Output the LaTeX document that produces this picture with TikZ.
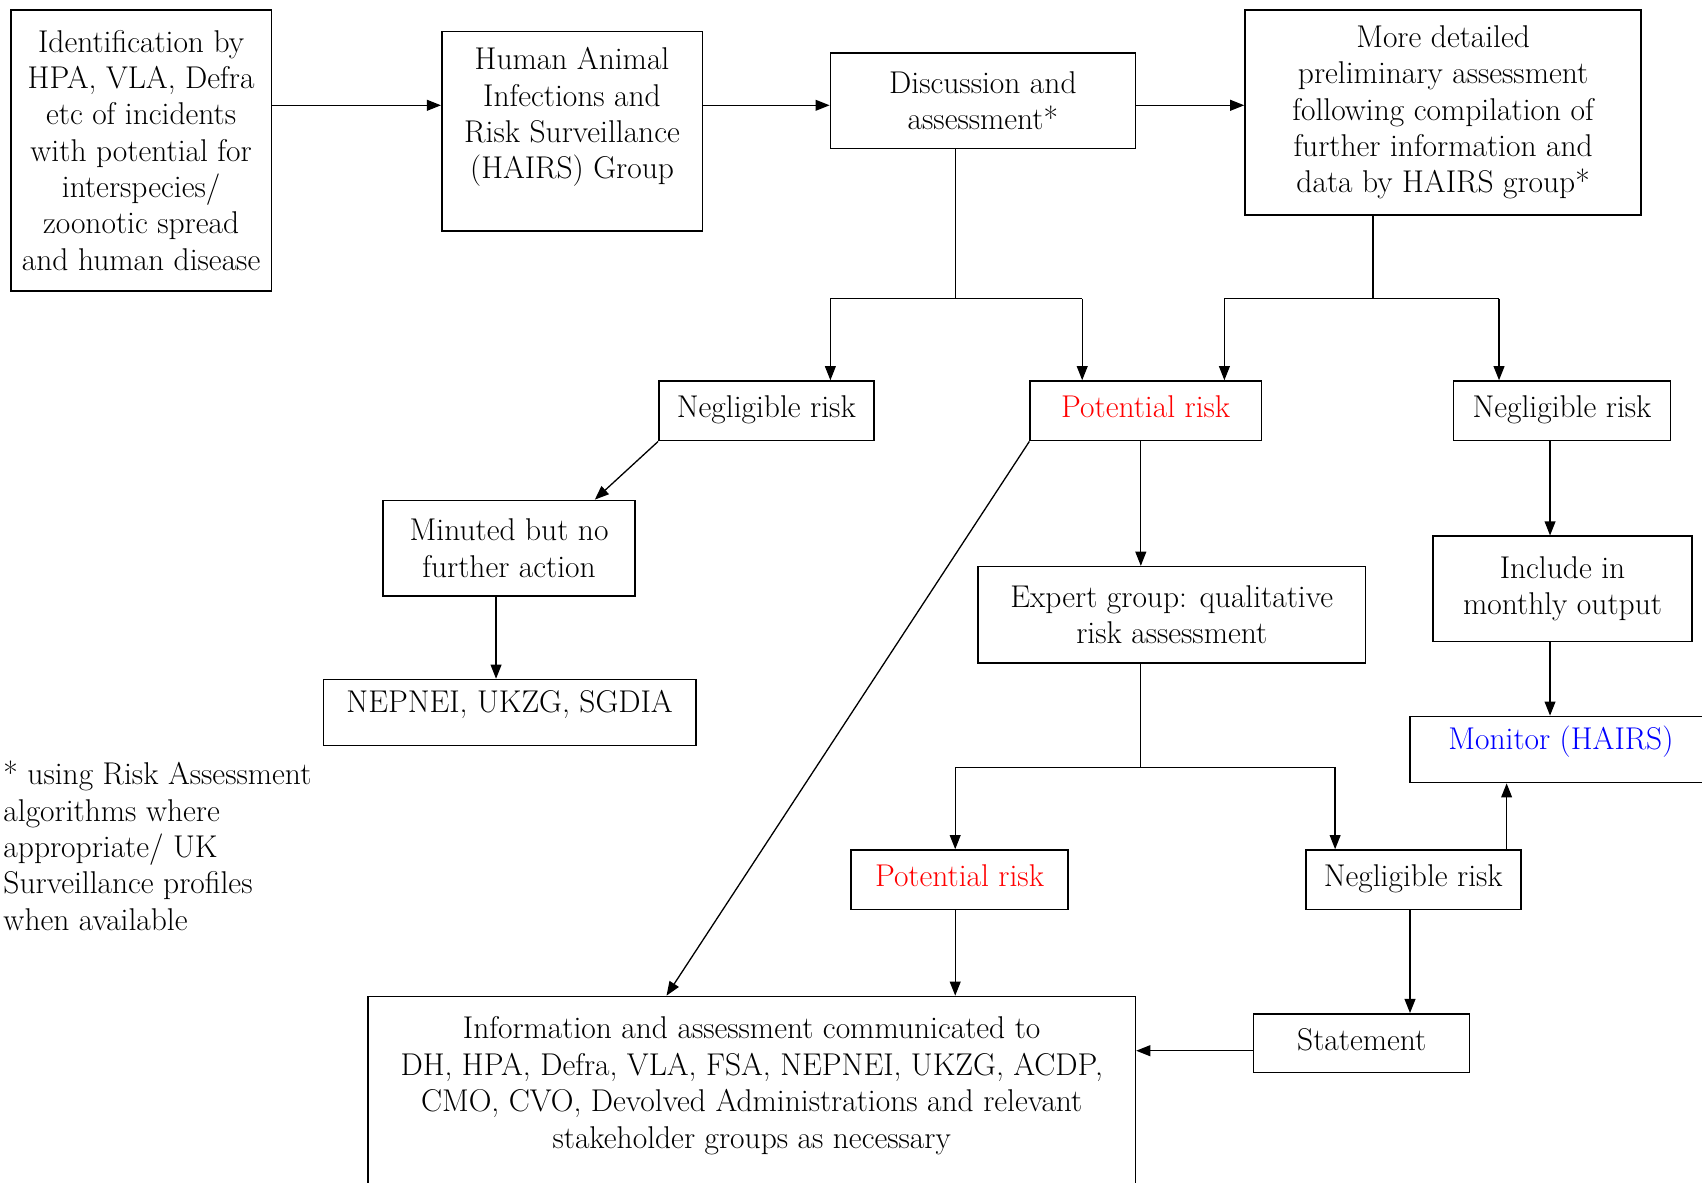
\documentclass[tikz,border=0pt]{standalone}
\usepackage{tikz}
\usetikzlibrary{arrows.meta,positioning}

\begin{document}
\begin{tikzpicture}[x=1pt, y=-1pt,
	box/.style={draw, line width=1.4pt, align=center, inner sep=0pt,
		font=\fontsize{29}{33.5}\selectfont},
	riskbox/.style={box, text height=20pt, text depth=7pt},
	arr/.style={line width=1.2pt, -{Triangle[length=13pt,width=10pt]}},
	link/.style={line width=1.2pt}]
	\useasboundingbox (0,0) rectangle (1568,1089);

	% top row
	\node[box, minimum width=240, minimum height=259] (ident) at (130,138.5)
		{Identification by\\HPA, VLA, Defra\\etc of incidents\\with potential for\\interspecies/\\zoonotic spread\\and human disease};
	\node[box, minimum width=240, minimum height=184] (hairs) at (527,121)
		{Human Animal\\Infections and\\Risk Surveillance\\(HAIRS) Group\\\mbox{}};
	\node[box, minimum width=281, minimum height=88] (disc) at (905.5,93)
		{Discussion and\\assessment*};
	\node[box, minimum width=365, minimum height=189] (more) at (1329.5,103.5)
		{More detailed\\preliminary assessment\\following compilation of\\further information and\\data by HAIRS group*};

	% first outcomes
	\node[riskbox, minimum width=198, minimum height=55] (neg1) at (706,378.5) {Negligible risk};
	\node[riskbox, minimum width=213, minimum height=55, text=red] (pot1) at (1055.5,378.5) {Potential risk};
	\node[riskbox, minimum width=200, minimum height=55] (neg3) at (1439,378.5) {Negligible risk};

	\node[box, minimum width=232, minimum height=88] (minuted) at (469,505) {Minuted but no\\further action};
	\node[riskbox, text depth=20pt, minimum width=343, minimum height=61] (nepnei) at (469.5,656.5) {NEPNEI, UKZG, SGDIA};
	\node[box, minimum width=357, minimum height=89] (expert) at (1079.5,566.5) {Expert group: qualitative\\risk assessment};
	\node[box, minimum width=239, minimum height=97] (include) at (1439.5,542.5) {Include in\\monthly output};
	\node[riskbox, text depth=20pt, minimum width=278, minimum height=61, text=blue] (monitor) at (1438,690.5) {Monitor (HAIRS)};

	% second outcomes
	\node[riskbox, minimum width=200, minimum height=55, text=red] (pot2) at (884,810.5) {Potential risk};
	\node[riskbox, minimum width=198, minimum height=55] (neg2) at (1302,810.5) {Negligible risk};
	\node[riskbox, minimum width=199, minimum height=54] (statement) at (1254.5,961) {Statement};
	\node[box, minimum width=707, minimum height=192] (info) at (692.5,1014)
		{Information and assessment communicated to\\DH, HPA, Defra, VLA, FSA, NEPNEI, UKZG, ACDP,\\CMO, CVO, Devolved Administrations and relevant\\stakeholder groups as necessary\\\mbox{}};

	\node[align=left, anchor=north west, inner sep=0pt, font=\fontsize{29}{33.5}\selectfont] (note) at (3,701)
		{* using Risk Assessment\\algorithms where\\appropriate/ UK\\Surveillance profiles\\when available};

	% routing points
	\coordinate (row) at (0,97);
	\coordinate (fork1) at (880,275);
	\coordinate (f1a) at (765,275);
	\coordinate (f1b) at (997,275);
	\coordinate (fork2) at (1265,275);
	\coordinate (f2a) at (1128,275);
	\coordinate (f2b) at (1381,275);
	\coordinate (fork3) at (1051,707);
	\coordinate (f3a) at (880,707);
	\coordinate (f3b) at (1230,707);
	\coordinate (cmin) at (548,0);
	\coordinate (cnep) at (457,0);
	\coordinate (cdiag) at (614,0);
	\coordinate (cmon) at (1428,0);
	\coordinate (cup) at (1388,0);
	\coordinate (cdown) at (1299,0);
	\coordinate (srow) at (0,968);

	% connectors
	\draw[arr] (ident.east |- row) -- (hairs.west |- row);
	\draw[arr] (hairs.east |- row) -- (disc.west |- row);
	\draw[arr] (disc.east |- row) -- (more.west |- row);

	\draw[link] (disc.south -| fork1) -- (fork1);
	\draw[link] (f1a) -- (f1b);
	\draw[arr] (f1a) -- (f1a |- neg1.north);
	\draw[arr] (f1b) -- (f1b |- pot1.north);

	\draw[link] (more.south -| fork2) -- (fork2);
	\draw[link] (f2a) -- (f2b);
	\draw[arr] (f2a) -- (f2a |- pot1.north);
	\draw[arr] (f2b) -- (f2b |- neg3.north);

	\draw[arr] (neg1.south west) -- (minuted.north -| cmin);
	\draw[arr] (minuted.south -| cnep) -- (nepnei.north -| cnep);

	\draw[arr] (pot1.south -| fork3) -- (expert.north -| fork3);
	\draw[arr] (pot1.south west) -- (info.north -| cdiag);
	\draw[link] (expert.south -| fork3) -- (fork3);
	\draw[link] (f3a) -- (f3b);
	\draw[arr] (f3a) -- (f3a |- pot2.north);
	\draw[arr] (f3b) -- (f3b |- neg2.north);

	\draw[arr] (neg3.south -| cmon) -- (include.north -| cmon);
	\draw[arr] (include.south -| cmon) -- (monitor.north -| cmon);
	\draw[arr] (neg2.north -| cup) -- (monitor.south -| cup);

	\draw[arr] (pot2.south -| f3a) -- (info.north -| f3a);
	\draw[arr] (neg2.south -| cdown) -- (statement.north -| cdown);
	\draw[arr] (statement.west |- srow) -- (info.east |- srow);
\end{tikzpicture}
\end{document}
